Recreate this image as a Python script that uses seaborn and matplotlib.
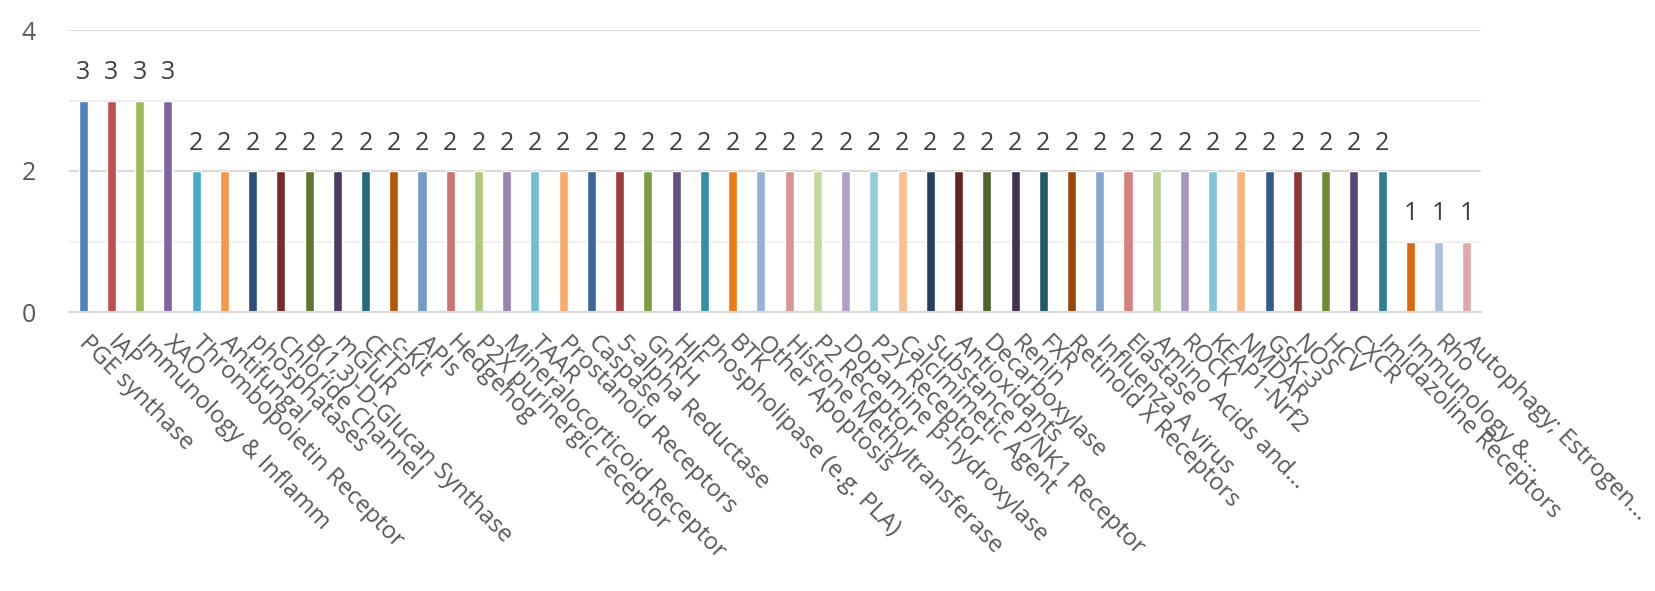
import matplotlib
matplotlib.use("Agg")
import matplotlib.pyplot as plt
import matplotlib.transforms as mtransforms
import seaborn as sns
import numpy as np

labels = [
    "PGE synthase", "IAP", "Immunology & Inflamm", "XAO", "Thrombopoietin Receptor",
    "Antifungal", "phosphatases", "Chloride Channel", "B(1,3)-D-Glucan Synthase", "mGluR",
    "CETP", "c-Kit", "APIs", "Hedgehog", "P2X purinergic receptor",
    "Mineralocorticoid Receptor", "TAAR", "Prostanoid Receptors", "Caspase", "5-alpha Reductase",
    "GnRH", "HIF", "Phospholipase (e.g. PLA)", "BTK", "Other Apoptosis",
    "Histone Methyltransferase", "P2 Receptor", "Dopamine β-hydroxylase", "P2Y Receptor", "Calcimimetic Agent",
    "Substance P/NK1 Receptor", "Antioxidants", "Decarboxylase", "Renin", "FXR",
    "Retinoid X Receptors", "Influenza A virus", "Elastase", "Amino Acids and...", "ROCK",
    "KEAP1-Nrf2", "NMDAR", "GSK-3", "NOS", "HCV",
    "CXCR", "Imidazoline Receptors", "Immunology &...", "Rho", "Autophagy; Estrogen...",
]
values = [3, 3, 3, 3] + [2] * 43 + [1, 1, 1]

bar_colors = [
    "#4F81BD", "#C0504D", "#9BBB59", "#8064A2", "#4BACC6", "#F79646",
    "#2C4D75", "#772C2A", "#5F7530", "#4D3B62", "#276A7C", "#B65708",
    "#729ACA", "#CD7371", "#AFC97A", "#9983B5", "#6FBDD1", "#F9AB6B",
    "#3A679C", "#A13C3A", "#7E9D40", "#664F83", "#358EA6", "#F07B12",
    "#95B3D7", "#D99694", "#C3D69B", "#B2A1C7", "#93CDDD", "#FAC090",
    "#254061", "#632523", "#4F6228", "#3F3151", "#215968", "#974806",
    "#84A5D0", "#D5807E", "#B8CF8D", "#A895BE", "#82C5D7", "#F8B47E",
    "#345C8C", "#8E3634", "#6F8B36", "#5A4675", "#2F7D93", "#D9680E",
    "#A9C0DE", "#E0A8A7",
]

sns.set_style("white")
plt.rcParams["font.family"] = ["Open Sans", "DejaVu Sans"]
text_col = "#595959"

fig = plt.figure(figsize=(16.56, 5.91), dpi=100)
ax = fig.add_axes([69 / 1656, (591 - 312) / 591, (1481 - 69) / 1656, (312 - 30) / 591])

sns.barplot(x=labels, y=values, hue=labels, palette=bar_colors, legend=False,
            width=0.32, saturation=1, ax=ax)

ax.set_ylim(0, 4)
ax.set_xlim(-0.5, len(labels) - 0.5)
ax.set_yticks([0, 2, 4])
ax.set_yticks([1, 3], minor=True)
ax.grid(axis="y", which="major", color="#D9D9D9", lw=1.5)
ax.grid(axis="y", which="minor", color="#EFEFEF", lw=1.5)
ax.set_axisbelow(True)
for s in ["top", "right", "left"]:
    ax.spines[s].set_visible(False)
ax.spines["bottom"].set_color("#D9D9D9")
ax.spines["bottom"].set_linewidth(1.5)

ax.tick_params(axis="y", which="both", length=0, pad=24, labelsize=18, labelcolor=text_col)
ax.set_xticks(range(len(labels)))
ax.set_xticklabels(labels, rotation=-45, ha="left", va="top", rotation_mode="anchor",
                   fontsize=17.3, color=text_col)
ax.tick_params(axis="x", length=0, pad=14)
# nudge the slanted labels a little to the right, like the original
shift = mtransforms.ScaledTranslation(0.08, 0, fig.dpi_scale_trans)
for lab in ax.get_xticklabels():
    lab.set_transform(lab.get_transform() + shift)
ax.set_xlabel("")
ax.set_ylabel("")

for i, v in enumerate(values):
    ax.annotate(str(v), (i, v), xytext=(0, 11), textcoords="offset points",
                ha="center", va="bottom", fontsize=18, color="#404040")

plt.savefig("out.png", dpi=100)
